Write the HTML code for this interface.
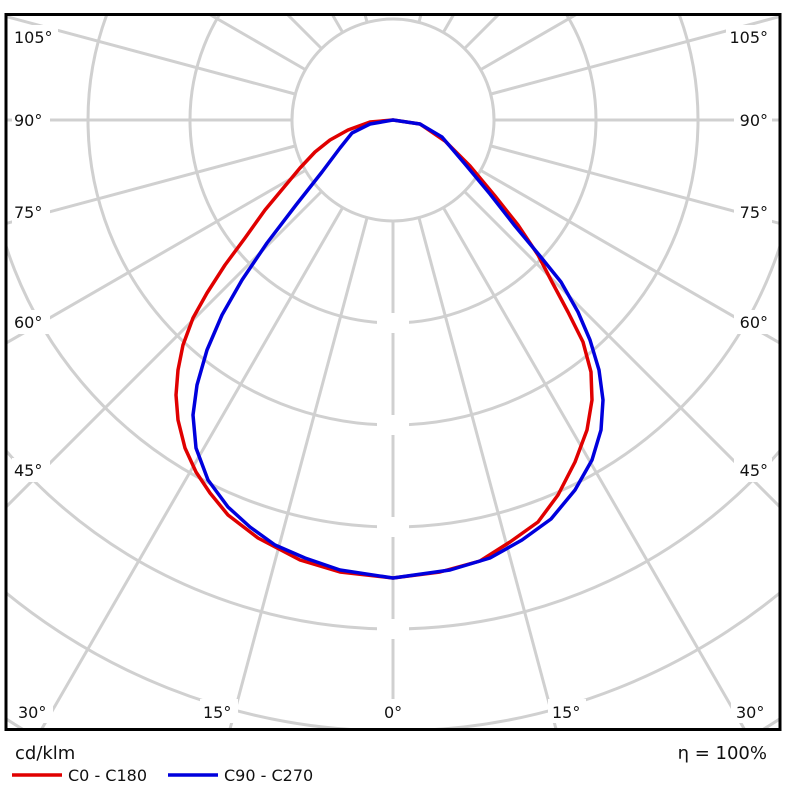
<!DOCTYPE html>
<html><head><meta charset="utf-8"><style>
html,body{margin:0;padding:0;background:#fff;overflow:hidden;width:800px;height:800px;}
svg{display:block;}
text{font-family:"DejaVu Sans","Liberation Sans",sans-serif;fill:#111;}
</style></head><body>
<svg width="800" height="800" viewBox="0 0 800 800" xmlns="http://www.w3.org/2000/svg">
<defs><clipPath id="c"><rect x="6" y="15" width="774" height="714"/></clipPath></defs>
<g clip-path="url(#c)" stroke="#d0d0d0" stroke-width="3" fill="none">
<circle cx="393" cy="120" r="101"/>
<circle cx="393" cy="120" r="203"/>
<circle cx="393" cy="120" r="305"/>
<circle cx="393" cy="120" r="407"/>
<circle cx="393" cy="120" r="509"/>
<circle cx="393" cy="120" r="611"/>
<circle cx="393" cy="120" r="713"/>
<line x1="393" y1="221" x2="393" y2="900"/>
<line x1="419" y1="218" x2="626" y2="990"/>
<line x1="443" y1="207" x2="843" y2="900"/>
<line x1="464" y1="191" x2="1029" y2="756"/>
<line x1="480" y1="170" x2="1173" y2="570"/>
<line x1="491" y1="146" x2="1263" y2="353"/>
<line x1="494" y1="120" x2="1300" y2="120"/>
<line x1="491" y1="94" x2="1263" y2="-113"/>
<line x1="480" y1="70" x2="1173" y2="-330"/>
<line x1="464" y1="49" x2="1029" y2="-516"/>
<line x1="443" y1="33" x2="843" y2="-660"/>
<line x1="419" y1="22" x2="626" y2="-750"/>
<line x1="367" y1="218" x2="160" y2="990"/>
<line x1="343" y1="207" x2="-57" y2="900"/>
<line x1="322" y1="191" x2="-243" y2="756"/>
<line x1="306" y1="170" x2="-387" y2="570"/>
<line x1="295" y1="146" x2="-477" y2="353"/>
<line x1="292" y1="120" x2="-500" y2="120"/>
<line x1="295" y1="94" x2="-477" y2="-113"/>
<line x1="306" y1="70" x2="-387" y2="-330"/>
<line x1="322" y1="49" x2="-243" y2="-516"/>
<line x1="343" y1="33" x2="-57" y2="-660"/>
<line x1="367" y1="22" x2="160" y2="-750"/>
</g>
<g fill="#fff">
<rect x="377" y="313" width="32" height="20"/>
<rect x="377" y="415" width="32" height="20"/>
<rect x="377" y="517" width="32" height="20"/>
<rect x="377" y="619" width="32" height="20"/>
<rect x="377" y="721" width="32" height="8"/>
<rect x="12" y="25" width="46" height="24"/>
<rect x="12" y="108" width="38" height="24"/>
<rect x="12" y="200" width="38" height="24"/>
<rect x="12" y="310" width="38" height="24"/>
<rect x="12" y="458" width="38" height="24"/>
<rect x="15" y="699" width="38" height="24"/>
<rect x="200" y="699" width="38" height="24"/>
<rect x="380" y="699" width="28" height="24"/>
<rect x="548" y="699" width="38" height="24"/>
<rect x="731" y="699" width="38" height="24"/>
<rect x="726" y="25" width="46" height="24"/>
<rect x="734" y="108" width="38" height="24"/>
<rect x="734" y="200" width="38" height="24"/>
<rect x="734" y="310" width="38" height="24"/>
<rect x="734" y="458" width="38" height="24"/>
</g>
<g font-size="16">
<text x="14" y="43">105°</text>
<text x="14" y="126">90°</text>
<text x="14" y="218">75°</text>
<text x="14" y="328">60°</text>
<text x="14" y="476">45°</text>
<text x="18" y="718">30°</text>
<text x="203" y="718">15°</text>
<text x="384" y="718">0°</text>
<text x="552" y="718">15°</text>
<text x="736" y="718">30°</text>
<text x="768" y="43" text-anchor="end">105°</text>
<text x="768" y="126" text-anchor="end">90°</text>
<text x="768" y="218" text-anchor="end">75°</text>
<text x="768" y="328" text-anchor="end">60°</text>
<text x="768" y="476" text-anchor="end">45°</text>
</g>
<path fill="none" stroke="#e00000" stroke-width="3.5" stroke-linejoin="round" d="M393,120 L370,122 L348,130 L330,140 L315,152 L300,168 L285,186 L265,210 L245,238 L225,265 L207,293 L193,318 L183,345 L178,370 L176,395 L178,420 L185,448 L196,472 L210,493 L228,515 L258,538 L300,560 L340,572 L393,578 L440,572 L480,561 L510,542 L538,522 L558,495 L575,462 L587,430 L592,400 L591,372 L583,342 L568,312 L552,282 L538,255 L518,225 L495,196 L470,166 L445,141 L420,124 Z"/>
<path fill="none" stroke="#0000dd" stroke-width="3.5" stroke-linejoin="round" d="M393,120 L370,124 L352,133 L340,148 L322,172 L296,205 L267,243 L242,280 L222,315 L207,350 L197,385 L193,415 L196,448 L208,480 L228,507 L250,527 L275,545 L305,558 L340,570 L393,578 L450,570 L490,558 L522,540 L551,519 L575,490 L592,460 L601,430 L603,400 L599,370 L590,340 L578,312 L561,282 L540,256 L515,226 L490,194 L465,164 L442,137 L420,124 Z"/>
<rect x="6" y="14.5" width="774" height="715" fill="none" stroke="#000" stroke-width="3"/>
<text x="15" y="759" font-size="18">cd/klm</text>
<line x1="12" y1="775" x2="62" y2="775" stroke="#e00000" stroke-width="3.5"/>
<text x="68" y="781" font-size="16">C0 - C180</text>
<line x1="168" y1="775" x2="218" y2="775" stroke="#0000dd" stroke-width="3.5"/>
<text x="224" y="781" font-size="16">C90 - C270</text>
<text x="767" y="759" font-size="18" text-anchor="end">η = 100%</text>
</svg>
</body></html>
